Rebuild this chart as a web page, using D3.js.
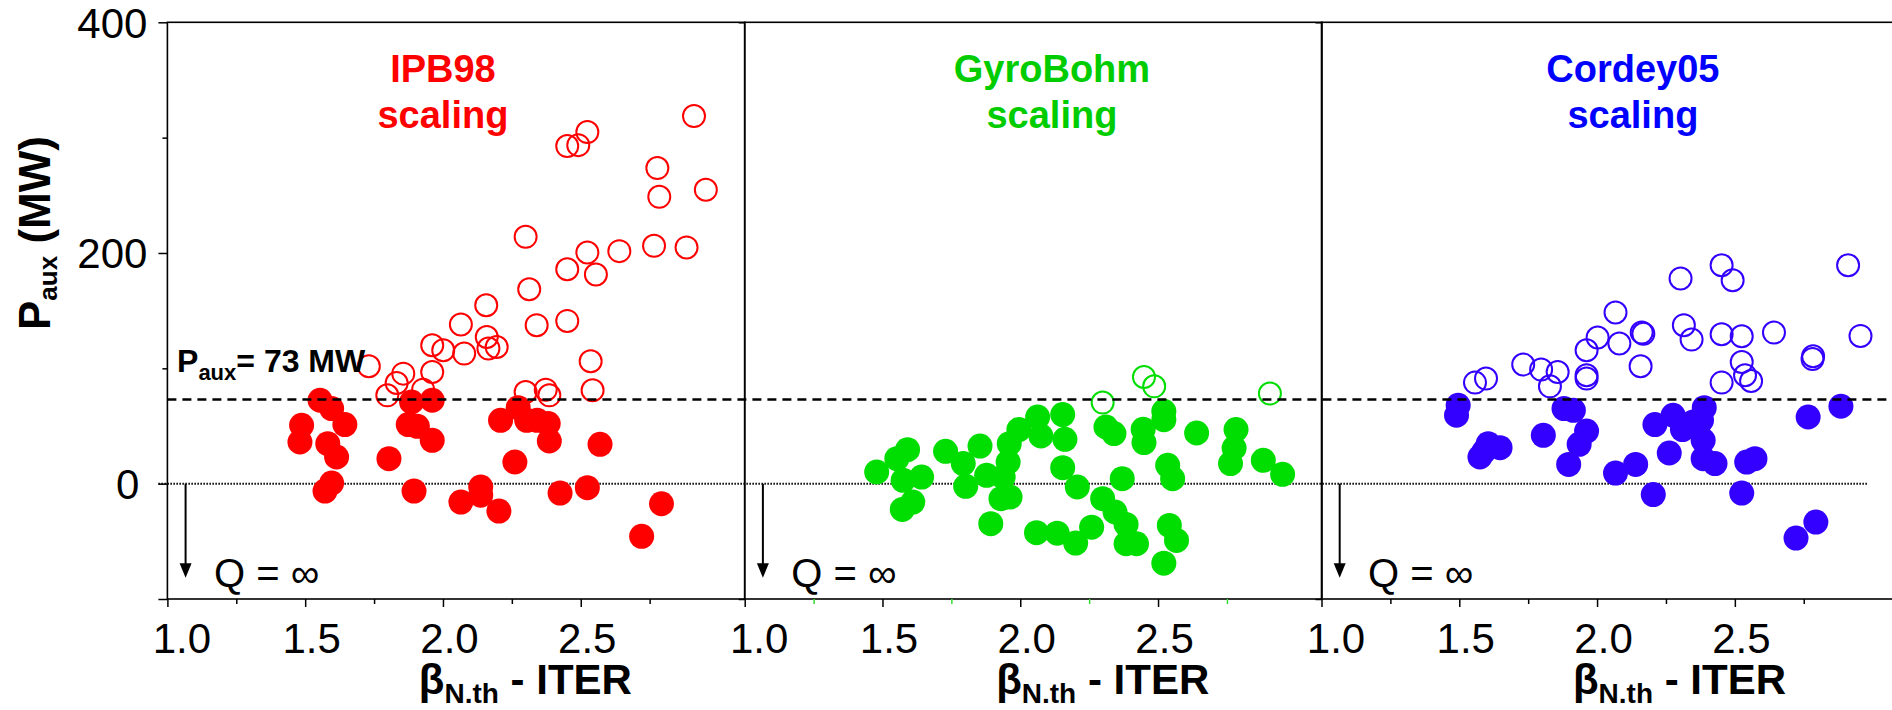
<!DOCTYPE html>
<html>
<head>
<meta charset="utf-8">
<script src="https://cdn.jsdelivr.net/npm/d3@7"></script>
<style>
  body { margin: 0; background: #fff; }
  svg { display: block; }
  text { font-family: "Liberation Sans", Arial, Helvetica, sans-serif; }
</style>
</head>
<body>
<svg id="chart" width="1892" height="710"></svg>
<script>
// ---- Data: beta_N,th (ITER) vs required auxiliary power P_aux (MW) ----
// Open circles: P_aux above 73 MW; filled circles: at or below it.

const ipbOpenX = [2.911, 2.524, 2.451, 2.491, 2.778, 2.954, 2.785, 2.300, 2.766, 2.884, 2.640, 2.524,
  2.451, 2.555, 2.313, 2.157, 2.451, 2.340, 2.065, 2.159, 2.165, 2.195, 1.961, 2.001, 2.077, 1.731,
  1.856, 1.832, 1.798, 1.961, 1.928, 2.536, 2.543, 2.300, 2.373, 2.386];
const ipbOpenY = [318.7, 304.8, 292.7, 293.5, 273.6, 254.8, 248.7, 214.0, 206.2, 204.8, 201.6, 200.4,
  185.9, 181.3, 168.6, 154.7, 141.1, 137.4, 138.0, 127.2, 117.1, 118.5, 120.0, 115.7, 112.8, 101.8,
  95.4, 87.3, 76.6, 96.8, 81.5, 106.1, 81.0, 79.5, 81.5, 76.6];
const ipbFillX = [1.554, 1.596, 1.487, 1.481, 1.644, 1.582, 1.614, 1.596, 1.572, 1.804, 1.886, 1.961,
  1.874, 1.907, 1.961, 1.895, 2.065, 2.137, 2.137, 2.203, 2.261, 2.209, 2.273, 2.304, 2.342, 2.382,
  2.386, 2.425, 2.524, 2.570, 2.793, 2.721];
const ipbFillY = [72.3, 65.1, 50.6, 36.1, 51.2, 34.7, 23.1, 0.5, -6.4, 21.7, 70.8, 72.3,
  51.2, 49.7, 37.6, -6.4, -16.0, -2.9, -10.0, -23.8, 18.8, 54.9, 65.9, 54.9, 54.9, 52.1,
  37.0, -8.2, -3.5, 34.1, -17.4, -45.7];

const gbOpenX = [2.299, 2.449, 2.486, 2.906];
const gbOpenY = [70.3, 92.5, 84.4, 78.1];
const gbFillX = [1.479, 1.552, 1.591, 1.575, 1.642, 1.610, 1.572, 1.729, 1.793, 1.854, 1.802, 1.878,
  1.938, 1.956, 1.960, 1.995, 2.063, 2.075, 2.154, 2.162, 2.154, 2.207, 1.930, 1.963, 1.893, 2.059,
  2.134, 2.201, 2.259, 2.299, 2.344, 2.384, 2.384, 2.422, 2.311, 2.340, 2.370, 2.446, 2.449, 2.521,
  2.521, 2.535, 2.553, 2.541, 2.567, 2.521, 2.640, 2.783, 2.776, 2.763, 2.882, 2.952];
const gbFillY = [10.1, 21.7, 29.5, 2.9, 5.7, -16.0, -22.3, 28.0, 17.4, 32.6, -2.3, 7.2,
  5.7, 18.7, 34.7, 46.9, 57.8, 41.3, 59.9, 38.4, 13.9, -2.9, -13.0, -11.6, -34.7, -42.5,
  -42.9, -51.5, -37.7, -13.0, -24.6, -35.3, -52.1, -52.1, 49.1, 43.4, 4.3, 47.1, 35.6, 62.7,
  55.5, 15.9, 4.3, -36.2, -49.2, -68.9, 43.9, 46.9, 30.9, 17.4, 20.2, 8.1];

const cdOpenX = [2.911, 2.452, 2.492, 2.303, 2.067, 2.002, 1.962, 2.081, 2.162, 2.168, 2.158, 2.315,
  2.343, 2.452, 2.525, 2.642, 2.956, 2.784, 2.782, 2.525, 2.537, 2.559, 2.452, 1.962, 1.962, 1.732,
  1.797, 1.857, 1.829, 1.557, 1.597];
const cdOpenY = [189.4, 189.4, 176.4, 177.9, 148.4, 126.7, 115.7, 121.5, 131.0, 130.0, 101.8, 137.4,
  124.9, 129.5, 127.8, 131.0, 128.1, 110.5, 108.0, 105.5, 94.0, 89.0, 87.6, 94.0, 91.1, 103.3,
  98.9, 96.8, 84.4, 87.6, 91.1];
const cdFillX = [1.496, 1.490, 1.575, 1.605, 1.648, 1.590, 1.805, 1.880, 1.914, 1.962, 1.935, 1.897,
  2.067, 2.140, 2.204, 2.210, 2.276, 2.262, 2.310, 2.349, 2.389, 2.385, 2.379, 2.385, 2.428, 2.543,
  2.573, 2.525, 2.766, 2.885, 2.794, 2.722];
const cdFillY = [68.0, 59.3, 23.1, 34.7, 31.2, 28.0, 41.9, 65.1, 63.6, 45.6, 34.1, 16.7,
  9.2, 16.7, -9.5, 51.2, 59.3, 26.6, 46.9, 53.5, 65.9, 37.6, 54.9, 21.7, 17.4, 18.7,
  21.7, -8.2, 57.8, 67.1, -33.3, -47.2];

const scalingNames = ["IPB98", "GyroBohm", "Cordey05"];
const pauxLimit = 73;                    // MW
const xTickMajor = [1.0, 1.5, 2.0, 2.5];
const xTickMinor = [1.25, 1.75, 2.25, 2.75];
const xTickLabels = ["1.0", "1.5", "2.0", "2.5"];
const yTickMajor = [-100, 0, 200, 400];
const yTickMinor = [100, 300];
const yTickLabels = ["", "0", "200", "400"];

// ---- Layout ----
const svg = d3.select("#chart");
const plotTop = 22.3, plotBottom = 599, panelW = 577.3;
const panelLeft = [167.4, 744.7, 1321.5];
const titleAt = [2.0, 2.115, 2.13];      // x-value where each scaling name is centred
const markColor = ["#ff0000", "#00dd00", "#3300ff"];
const titleColor = ["#ff0000", "#00cc00", "#0000ff"];
const minorTickColor = ["#000", "#33dd33", "#000"];

const y = d3.scaleLinear().domain([-100, 400]).range([plotBottom, plotTop]);
const xs = panelLeft.map(l => d3.scaleLinear().domain([1.0, 3.095]).range([l, l + panelW]));

const series = [
  { open: [ipbOpenX, ipbOpenY], fill: [ipbFillX, ipbFillY] },
  { open: [gbOpenX, gbOpenY], fill: [gbFillX, gbFillY] },
  { open: [cdOpenX, cdOpenY], fill: [cdFillX, cdFillY] }
];
const zip = (xa, ya) => xa.map((v, i) => ({ x: v, y: ya[i] }));

svg.append("rect").attr("width", 1892).attr("height", 710).attr("fill", "#fff");

// dotted zero line
svg.append("line")
  .attr("x1", xs[0](1.0) - 9).attr("x2", xs[2](2.98))
  .attr("y1", y(0)).attr("y2", y(0))
  .attr("stroke", "#000").attr("stroke-width", 2).attr("stroke-dasharray", "1.5,1.5");

scalingNames.forEach((name, p) => {
  const x = xs[p];
  const g = svg.append("g");

  // frame
  g.append("rect")
    .attr("x", x.range()[0]).attr("y", plotTop)
    .attr("width", panelW).attr("height", plotBottom - plotTop)
    .attr("fill", "none").attr("stroke", "#000").attr("stroke-width", 1.6);

  // x axis: major ticks with labels, minor ticks without
  const gx = g.append("g").attr("transform", `translate(0,${plotBottom})`);
  gx.call(d3.axisBottom(x).tickValues(xTickMajor).tickSize(8)
      .tickFormat((d, i) => xTickLabels[i]))
    .call(a => a.select(".domain").remove());
  gx.selectAll(".tick line").attr("stroke", "#000").attr("stroke-width", 1.5);
  gx.selectAll(".tick text")
    .attr("y", 54).attr("dy", 0)
    .attr("dx", d => d === 1.0 ? 14 : 6)
    .attr("fill", "#000")
    .style("font-size", "42px");
  const gxm = g.append("g").attr("transform", `translate(0,${plotBottom})`);
  gxm.call(d3.axisBottom(x).tickValues(xTickMinor).tickSize(5).tickFormat(""))
    .call(a => a.select(".domain").remove());
  gxm.selectAll(".tick line").attr("stroke", minorTickColor[p]).attr("stroke-width", 1.5);

  // y axis
  const x0 = x.range()[0];
  if (p === 0) {
    const gy = g.append("g").attr("transform", `translate(${x0},0)`);
    gy.call(d3.axisLeft(y).tickValues(yTickMajor).tickSize(9)
        .tickFormat((d, i) => yTickLabels[i]))
      .call(a => a.select(".domain").remove());
    gy.selectAll(".tick line").attr("stroke", "#000").attr("stroke-width", 1.5);
    gy.selectAll(".tick text")
      .attr("x", d => d === 0 ? -28 : -20).attr("dy", "0.35em")
      .attr("fill", "#000").style("font-size", "42px");
    const gym = g.append("g").attr("transform", `translate(${x0},0)`);
    gym.call(d3.axisLeft(y).tickValues(yTickMinor).tickSize(5).tickFormat(""))
      .call(a => a.select(".domain").remove());
    gym.selectAll(".tick line").attr("stroke", "#000").attr("stroke-width", 1.5);
  } else {
    const gy = g.append("g").attr("transform", `translate(${x0},0)`);
    gy.call(d3.axisLeft(y).tickValues([-100, 400]).tickSize(6).tickFormat(""))
      .call(a => a.select(".domain").remove());
    gy.selectAll(".tick line").attr("stroke", "#000").attr("stroke-width", 1.5);
  }

  // scaling name
  const t = g.append("text")
    .attr("text-anchor", "middle").attr("fill", titleColor[p])
    .style("font-size", "38px").style("font-weight", "bold");
  t.append("tspan").attr("x", x(titleAt[p])).attr("y", 81.7).text(name);
  t.append("tspan").attr("x", x(titleAt[p])).attr("y", 128.3).text("scaling");

  // Q = infinity arrow
  const ax = x(1.066);
  g.append("line").attr("x1", ax).attr("x2", ax)
    .attr("y1", y(0)).attr("y2", y(-70))
    .attr("stroke", "#000").attr("stroke-width", 2);
  g.append("path")
    .attr("d", `M${ax - 6},${y(-69)} L${ax + 6},${y(-69)} L${ax},${y(-81.5)} Z`)
    .attr("fill", "#000");
  g.append("text").attr("x", x(1.169)).attr("y", 586.7)
    .attr("fill", "#000").style("font-size", "40px").text("Q = \u221E");

  // x-axis title
  const xt = g.append("text")
    .attr("x", x0 + 358).attr("y", 694)
    .attr("text-anchor", "middle").attr("fill", "#000")
    .style("font-weight", "bold").style("font-size", "42px");
  xt.append("tspan").text("\u03B2");
  xt.append("tspan").attr("dy", 9).style("font-size", "28px").text("N.th");
  xt.append("tspan").attr("dy", -9).text(" - ITER");

  // markers
  const s = series[p];
  g.selectAll("circle.open").data(zip(...s.open)).join("circle")
    .attr("class", "open")
    .attr("cx", d => x(d.x)).attr("cy", d => y(d.y)).attr("r", 11)
    .attr("fill", "none").attr("stroke", markColor[p]).attr("stroke-width", 2);
  g.selectAll("circle.fill").data(zip(...s.fill)).join("circle")
    .attr("class", "fill")
    .attr("cx", d => x(d.x)).attr("cy", d => y(d.y)).attr("r", 12.5)
    .attr("fill", markColor[p]);
});

// dashed threshold line over all panels
svg.append("line")
  .attr("x1", xs[0](1.0)).attr("x2", 1892)
  .attr("y1", y(pauxLimit)).attr("y2", y(pauxLimit))
  .attr("stroke", "#000").attr("stroke-width", 2.5).attr("stroke-dasharray", "9,6");

// threshold label
const lab = svg.append("text")
  .attr("x", xs[0](1.035)).attr("y", 371.7).attr("fill", "#000")
  .style("font-weight", "bold").style("font-size", "32px");
lab.append("tspan").text("P");
lab.append("tspan").attr("dy", 8).style("font-size", "22px").text("aux");
lab.append("tspan").attr("dy", -8).text("= " + pauxLimit + " MW");

// y-axis title
const yl = svg.append("text")
  .attr("transform", "translate(50,330) rotate(-90)")
  .attr("fill", "#000").style("font-weight", "bold").style("font-size", "44px");
yl.append("tspan").text("P");
yl.append("tspan").attr("dy", 7).style("font-size", "26px").text("aux");
yl.append("tspan").attr("dy", -7).text(" (MW)");
</script>
</body>
</html>
